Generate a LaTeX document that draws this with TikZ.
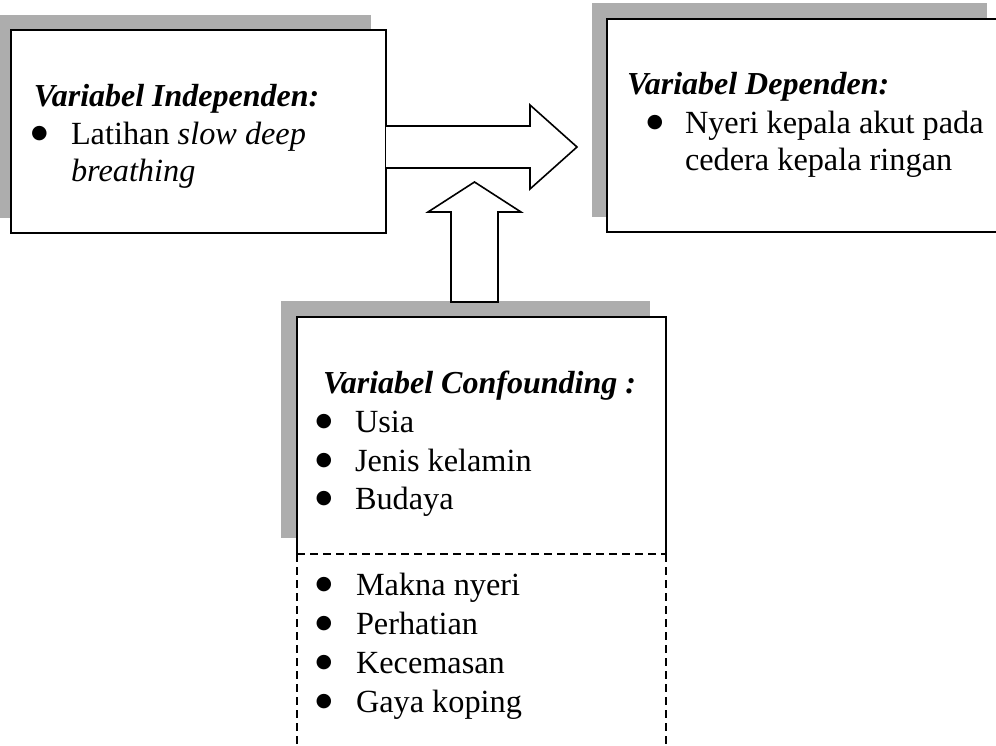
\documentclass[tikz,border=0pt]{standalone}
\usepackage{fontspec}
\setmainfont{Liberation Serif}
\newfontfamily\symfont{DejaVu Sans}
\usetikzlibrary{calc}
\definecolor{shadowgray}{gray}{0.68}
\tikzset{
  every node/.style={inner sep=0pt, outer sep=0pt},
  txt/.style={anchor=base west, font=\fontsize{32.3}{38}\selectfont},
  ttl/.style={anchor=base west, font=\fontsize{32}{38}\selectfont\bfseries\itshape},
  bul/.style={anchor=base, font=\symfont\fontsize{19}{20}\selectfont},
  boxline/.style={draw=black, line width=1.6pt},
  shadowbox/.style={fill=shadowgray},
  dashline/.style={draw=black, line width=1.4pt, dash pattern=on 8pt off 5pt},
  blockarrow/.style={draw=black, line width=1.6pt, fill=white, line join=miter}
}
\newcommand{\bulmark}{\raisebox{6pt}{●}}
\begin{document}
\begin{tikzpicture}[x=1pt, y=-1pt]
\useasboundingbox (0,0) rectangle (996,746);
\fill[white] (0,0) rectangle (996,746);
% shadows
\fill[shadowbox] (-4,15) rectangle (371,218);
\fill[shadowbox] (592,3) rectangle (987,217);
\fill[shadowbox] (281,301) rectangle (650,538);
% boxes
\node[boxline, fill=white, anchor=north west, minimum width=375pt, minimum height=203pt] (ind) at (11,30) {};
\node[boxline, fill=white, anchor=north west, minimum width=395pt, minimum height=213pt] (dep) at (607,19) {};
\fill[white] (297,317) rectangle (666,760);
\coordinate (cnw) at (297,317);
\coordinate (cne) at (666,317);
\coordinate (csw) at (297,554);
\coordinate (cse) at (666,554);
\coordinate (cbl) at (297,760);
\coordinate (cbr) at (666,760);
\draw[boxline, line join=miter] (csw) -- (cnw) -- (cne) -- (cse);
\draw[dashline] (csw) -- (cse);
\draw[dashline] (csw) -- (cbl);
\draw[dashline] (cse) -- (cbr);
% block arrows
\draw[blockarrow] (ind.east |- 0,126) -- (530,126) -- (530,105) -- (577,147) -- (530,189) -- (530,168) -- (ind.east |- 0,168);
\draw[blockarrow] (451,302) -- (451,212) -- (428,212) -- (474.5,182) -- (521,212) -- (498,212) -- (498,302) -- cycle;
% box 1 text
\node[ttl] (t1) at (34,107) {Variabel Independen:};
\node[bul] (b1) at (39.5,145) {\bulmark};
\node[txt] (l1a) at (71,145) {Latihan \textit{slow deep}};
\node[txt] (l1b) at (71,182) {\textit{breathing}};
% box 2 text
\node[ttl] (t2) at (627,95) {Variabel Dependen:};
\node[bul] (b2) at (655,134) {\bulmark};
\node[txt] (l2a) at (685,134) {Nyeri kepala akut pada};
\node[txt] (l2b) at (685,171) {cedera kepala ringan};
% box 3 text
\node[ttl] (t3) at (323,393) {Variabel Confounding :};
\node[bul] (b3a) at (324,432) {\bulmark};
\node[txt] (l3a) at (355,432) {Usia};
\node[bul] (b3b) at (324,471) {\bulmark};
\node[txt] (l3b) at (355,471) {Jenis kelamin};
\node[bul] (b3c) at (324,509) {\bulmark};
\node[txt] (l3c) at (355,509) {Budaya};
\node[bul] (b4a) at (324,595) {\bulmark};
\node[txt] (l4a) at (356,595) {Makna nyeri};
\node[bul] (b4b) at (324,634) {\bulmark};
\node[txt] (l4b) at (356,634) {Perhatian};
\node[bul] (b4c) at (324,673) {\bulmark};
\node[txt] (l4c) at (356,673) {Kecemasan};
\node[bul] (b4d) at (324,712) {\bulmark};
\node[txt] (l4d) at (356,712) {Gaya koping};
\end{tikzpicture}
\end{document}
